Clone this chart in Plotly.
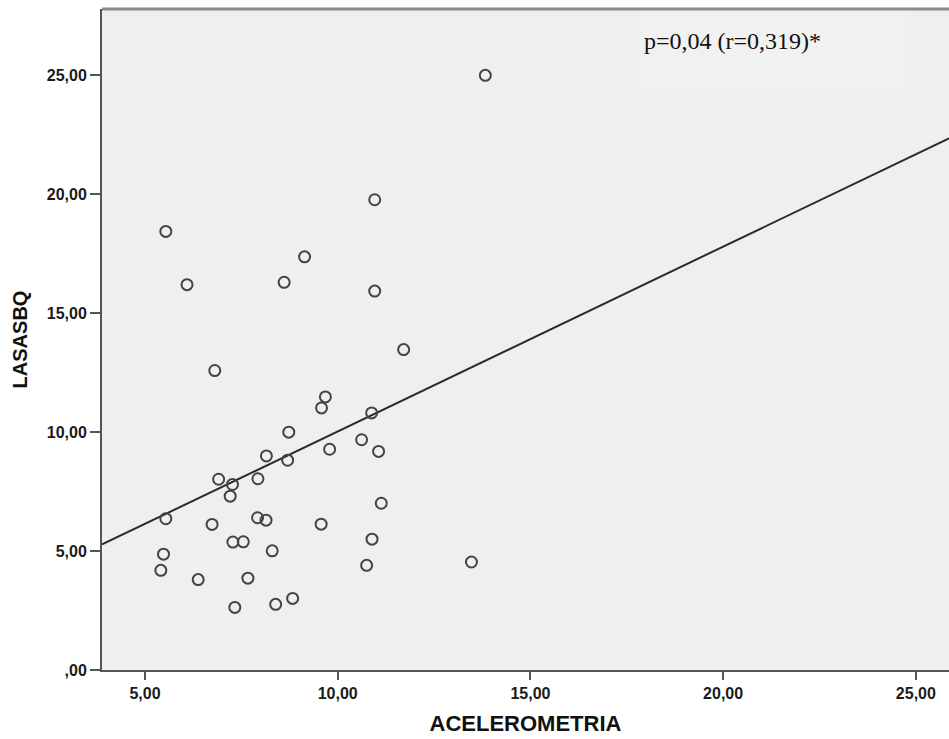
import plotly.graph_objects as go

acelerometria = [5.54, 6.09, 8.61, 9.14, 13.83, 10.96, 10.96, 11.71, 6.81, 9.58, 9.68,
                 8.73, 8.15, 8.70, 6.91, 7.27, 7.93, 7.21, 5.54, 6.74, 7.92, 8.14,
                 7.28, 7.55, 5.48, 8.30, 5.41, 6.38, 7.67, 7.33, 8.39, 8.83,
                 10.88, 10.62, 9.79, 11.06, 11.13, 9.57, 10.89, 10.75, 13.47]
lasasbq = [18.44, 16.20, 16.30, 17.37, 25.00, 19.77, 15.93, 13.47, 12.59, 11.02, 11.48,
           10.00, 9.00, 8.82, 8.02, 7.80, 8.04, 7.31, 6.36, 6.12, 6.40, 6.30,
           5.38, 5.39, 4.87, 5.01, 4.19, 3.80, 3.86, 2.63, 2.76, 3.01,
           10.81, 9.68, 9.28, 9.19, 7.01, 6.13, 5.50, 4.40, 4.54]

fit_slope = 0.777
fit_intercept = 2.26

x_ticks = [5, 10, 15, 20, 25]
x_ticktext = ["5,00", "10,00", "15,00", "20,00", "25,00"]
y_ticks = [0, 5, 10, 15, 20, 25]
y_ticktext = [",00", "5,00", "10,00", "15,00", "20,00", "25,00"]

x_range = [3.884, 25.86]
y_range = [0, 27.79]

SANS = "Liberation Sans, Arial, sans-serif"

fig = go.Figure()

fit_x = x_range
fit_y = [fit_intercept + fit_slope * v for v in fit_x]
fig.add_trace(go.Scatter(x=fit_x, y=fit_y, mode="lines",
                         line=dict(color="#2a2a2a", width=2), hoverinfo="skip"))

fig.add_trace(go.Scatter(x=acelerometria, y=lasasbq, mode="markers",
                         marker=dict(symbol="circle-open", size=11,
                                     line=dict(color="#444444", width=2),
                                     color="#444444")))

fig.add_annotation(xref="paper", yref="paper", x=0.638, y=0.975,
                   xanchor="left", yanchor="top",
                   text="p=0,04 (r=0,319)*", showarrow=False,
                   font=dict(family="Liberation Serif, Times New Roman, serif",
                             size=24, color="#111111"))

fig.update_layout(
    width=949, height=739,
    margin=dict(l=102, r=0, t=9, b=69),
    paper_bgcolor="white",
    plot_bgcolor="#efefef",
    showlegend=False,
    font=dict(family=SANS, color="#111111"),
    shapes=[
        dict(type="rect", xref="paper", yref="paper", x0=0.636, x1=0.954, y0=0.877, y1=0.99,
             fillcolor="#f1f1f1", line=dict(width=0), layer="below"),
        dict(type="line", xref="paper", yref="paper", x0=0, x1=1, y0=1, y1=1,
             line=dict(color="#8a8a8a", width=3)),
    ],
)

fig.update_xaxes(
    range=x_range, tickvals=x_ticks, ticktext=x_ticktext,
    showgrid=False, zeroline=False,
    showline=True, linecolor="#555555", linewidth=2,
    ticks="outside", ticklen=8, tickwidth=2, tickcolor="#555555",
    tickfont=dict(family=SANS, size=16, weight="bold", color="#1a1a1a"),
    title=dict(text="<b>ACELEROMETRIA</b>", standoff=14,
               font=dict(family=SANS, size=22, color="#111111")),
)
fig.update_yaxes(
    range=y_range, tickvals=y_ticks, ticktext=y_ticktext,
    showgrid=False, zeroline=False,
    showline=True, linecolor="#555555", linewidth=2,
    ticks="outside", ticklen=10, tickwidth=2, tickcolor="#555555",
    tickfont=dict(family=SANS, size=16, weight="bold", color="#1a1a1a"),
    title=dict(text="<b>LASASBQ</b>", standoff=14,
               font=dict(family=SANS, size=20, color="#111111")),
)

fig.write_html("out.html", config={"displayModeBar": False},
               post_script="document.body.style.margin='0';document.body.style.overflow='hidden';")
